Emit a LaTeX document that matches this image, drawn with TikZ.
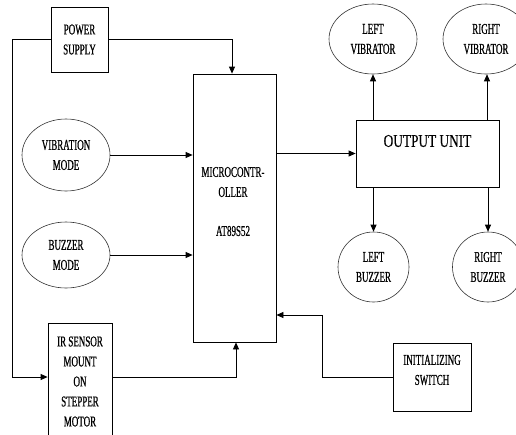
\documentclass[tikz,border=0pt]{standalone}
\usepackage{fontspec}
\newfontfamily\cf[FakeStretch=0.6,FakeBold=0.6]{Liberation Serif}
\newfontfamily\cfo[FakeStretch=0.74,FakeBold=0.3]{Liberation Serif}
\usetikzlibrary{arrows.meta,shapes.geometric}
\tikzset{
  x=1pt,y=-1pt,
  lbl/.style={font=\cf\fontsize{15}{20}\selectfont, align=center, text=black},
  boxn/.style={draw, line width=0.8pt, inner sep=0pt, rectangle},
  ell/.style={draw, line width=0.6pt, ellipse, inner sep=0pt, draw=black!80},
  arr/.style={line width=0.8pt, -{Triangle[length=7pt,width=6pt]}},
  ln/.style={line width=0.8pt}
}
\begin{document}
\begin{tikzpicture}
\clip (0,0) rectangle (516,434);
\fill[white] (0,0) rectangle (516,434);
% boxes
\node[boxn, minimum width=57pt, minimum height=65pt, lbl] (pw) at (79.5,39.5) {POWER\\SUPPLY};
\node[boxn, minimum width=83pt, minimum height=268pt] (mc) at (234.5,208) {};
\node[lbl] (mct) at (233,182) {MICROCONTR-\\OLLER};
\node[lbl] (mct2) at (233,231) {AT89S52};
\node[boxn, minimum width=64pt, minimum height=117pt, lbl] (ir) at (80,381.5) {IR SENSOR\\MOUNT\\ON\\STEPPER\\MOTOR};
\node[boxn, minimum width=143pt, minimum height=67pt] (out) at (427.5,153.5) {};
\node[font=\cfo\fontsize{18}{22}\selectfont, text=black] (outt) at (427.5,141) {OUTPUT UNIT};
\node[boxn, minimum width=78pt, minimum height=68pt] (sw) at (432,377) {};
\node[lbl] (swt) at (432,370) {INITIALIZING\\SWITCH};
% ellipses
\node[ell, minimum width=88pt, minimum height=72pt, lbl] (vm) at (66,155) {VIBRATION\\MODE};
\node[ell, minimum width=88pt, minimum height=66pt, lbl] (bm) at (66,255) {BUZZER\\MODE};
\node[ell, minimum width=88pt, minimum height=70pt, lbl] (lv) at (373,39) {LEFT\\VIBRATOR};
\node[ell, minimum width=86pt, minimum height=70pt, lbl] (rv) at (486,39) {RIGHT\\VIBRATOR};
\node[ell, minimum width=71pt, minimum height=70pt, lbl] (lb) at (373.5,267) {LEFT\\BUZZER};
\node[ell, minimum width=71pt, minimum height=70pt, lbl] (rb) at (488,267) {RIGHT\\BUZZER};
% connectors
\coordinate (c1) at (12,39.5);
\draw[arr] (pw.west) -- (c1) |- ([yshift=4.5pt]ir.west);
\draw[arr] (pw.east) -| ([xshift=-2.5pt]mc.north);
\draw[arr] (vm.east) -- (vm.east -| mc.west);
\draw[arr] (bm.east) -- (bm.east -| mc.west);
\draw[arr] ([yshift=4.5pt]ir.east) -| ([xshift=1.5pt]mc.south);
\coordinate (sj) at (322,315);
\draw[arr] (sw.west) -| (sj) -- (sj -| mc.east);
\draw[arr] (mc.east |- out.west) -- (out.west);
\draw[arr] (lv.south |- out.north) -- (lv.south);
\draw[arr] ([xshift=1pt]rv.south |- out.north) -- ([xshift=1pt]rv.south);
\draw[arr] (lb.north |- out.south) -- (lb.north);
\draw[arr] (rb.north |- out.south) -- (rb.north);
\end{tikzpicture}
\end{document}
